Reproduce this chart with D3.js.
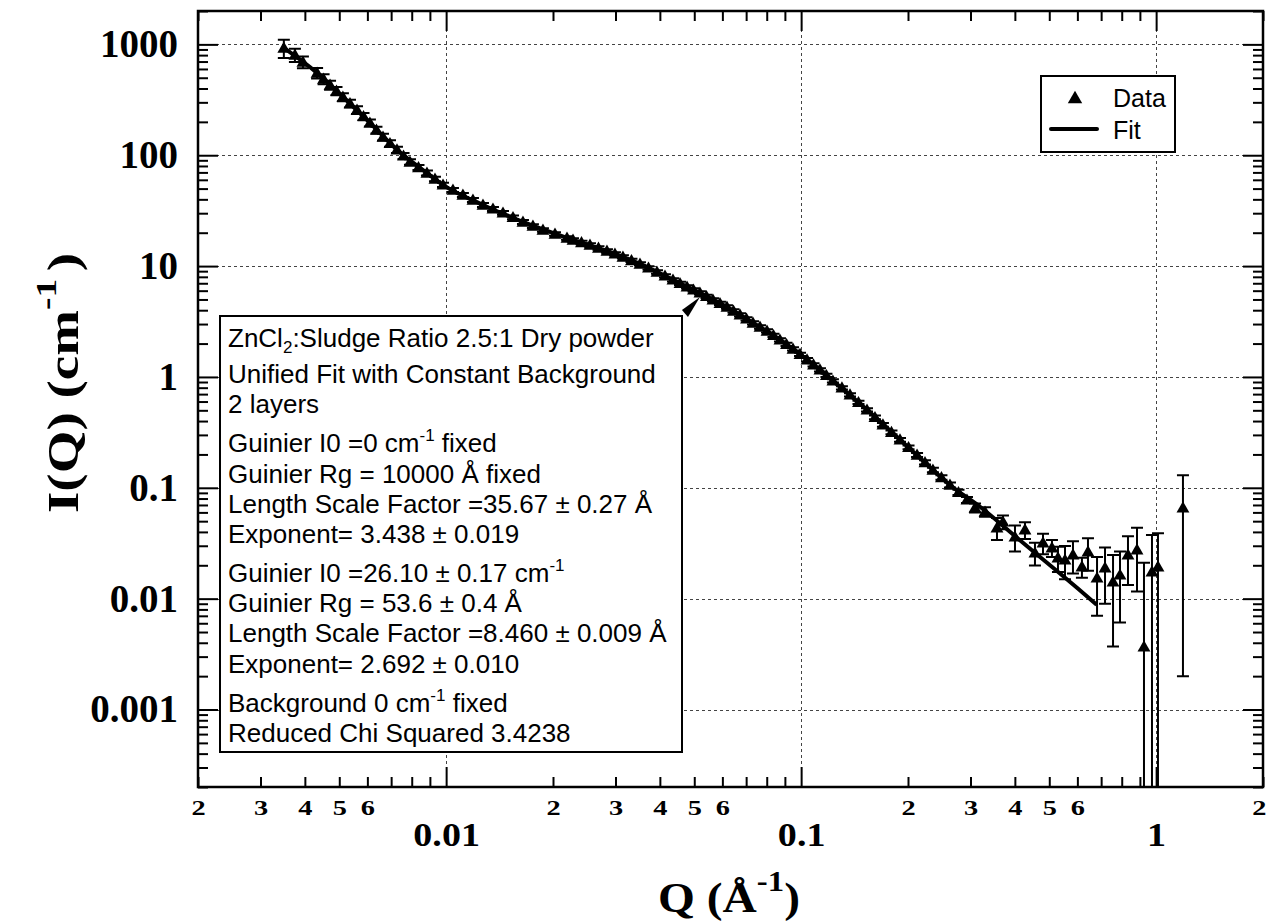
<!DOCTYPE html>
<html>
<head>
<meta charset="utf-8">
<script src="https://cdn.jsdelivr.net/npm/d3@7"></script>
<style>
  body { margin: 0; background: #fff; }
  svg { display: block; }
</style>
</head>
<body>
<div id="chart"></div>
<script>
// measured points (Q in 1/A, I in 1/cm) and their errors, read along the band
const qData = [0.00349, 0.00375, 0.00395, 0.00433, 0.004516, 0.00471, 0.004911, 0.00512, 0.00536, 0.00561,
  0.005851, 0.00610, 0.006364, 0.00664, 0.006948, 0.00727, 0.007585, 0.00791, 0.008358, 0.00883,
  0.009302, 0.00980, 0.010453, 0.01115, 0.0119, 0.0127, 0.01355, 0.01446, 0.01543, 0.01646,
  0.01756, 0.01874, 0.02026, 0.0219, 0.02277, 0.02406, 0.02542, 0.02686, 0.02838, 0.02989,
  0.03148, 0.03327, 0.03516, 0.03715, 0.03926, 0.04135, 0.04355, 0.04558, 0.04771, 0.04975,
  0.05188, 0.05412, 0.05645, 0.05907, 0.06181, 0.06448, 0.06727, 0.07016, 0.07318, 0.07658,
  0.08014, 0.08358, 0.08717, 0.09094, 0.09487, 0.09929, 0.1039, 0.10836, 0.1130, 0.11784,
  0.1229, 0.13029, 0.1373, 0.14506, 0.1533, 0.16144, 0.1700, 0.17967, 0.1899, 0.2007,
  0.2121, 0.2233, 0.2351, 0.24846, 0.2626, 0.27748, 0.2932,
  0.3089, 0.3296, 0.3562, 0.3703, 0.4003, 0.4271, 0.4557, 0.4801, 0.5088, 0.5290,
  0.5537, 0.5831, 0.6180, 0.6427, 0.6816, 0.7178, 0.7561, 0.7911, 0.8331, 0.8833,
  0.9242, 0.9734, 1.012, 1.190];
const iData = [928, 802, 694, 552, 487, 430, 380, 335, 293, 256,
  224, 196, 169, 146, 128, 112, 98.7, 87.0, 77.6, 69.2,
  61.1, 54.0, 48.6, 43.8, 39.5, 35.6, 32.8, 30.2, 27.5, 25.0,
  23.0, 21.2, 19.5, 17.95, 17.2, 16.33, 15.5, 14.57, 13.7, 12.88,
  12.1, 11.25, 10.46, 9.63, 8.86, 8.16, 7.51, 6.98, 6.49, 6.10,
  5.73, 5.33, 4.96, 4.61, 4.28, 3.94, 3.63, 3.34, 3.07, 2.825,
  2.60, 2.37, 2.16, 1.966, 1.79, 1.60, 1.43, 1.288, 1.16, 1.034,
  0.922, 0.798, 0.690, 0.590, 0.505, 0.432, 0.370, 0.3167, 0.271, 0.2317,
  0.198, 0.1694, 0.145, 0.124, 0.106, 0.0909, 0.0779,
  0.0660, 0.0607, 0.0436, 0.0493, 0.0361, 0.0418, 0.0259, 0.0319, 0.0288, 0.0234,
  0.0224, 0.0249, 0.0194, 0.0265, 0.0154, 0.0190, 0.0142, 0.0164, 0.0249, 0.0276,
  0.00368, 0.0175, 0.0194, 0.0660];
const iErr = [175, 110, 85, 60, 50, 40, 33, 28, 24, 20,
  17, 14, 12, 10, 8.5, 7, 6, 5, 4.2, 3.5,
  2.8, 2.4, 2.1, 1.9, 1.7, 1.5, 1.35, 1.2, 1.1, 1.0,
  0.9, 0.8, 0.72, 0.65, 0.62, 0.58, 0.55, 0.51, 0.48, 0.45,
  0.42, 0.39, 0.36, 0.33, 0.31, 0.28, 0.26, 0.24, 0.22, 0.21,
  0.19, 0.18, 0.17, 0.16, 0.15, 0.135, 0.125, 0.115, 0.105, 0.097,
  0.089, 0.081, 0.074, 0.067, 0.061, 0.055, 0.049, 0.044, 0.040, 0.036,
  0.032, 0.028, 0.024, 0.021, 0.018, 0.016, 0.014, 0.012, 0.011, 0.0095,
  0.0085, 0.0075, 0.0068, 0.006, 0.0055, 0.005, 0.0048,
  0.006, 0.006, 0.0097, 0.007, 0.0095, 0.0072, 0.006, 0.0067, 0.005, 0.006,
  0.0074, 0.008, 0.004, 0.0086, 0.0084, 0.010, 0.0105, 0.0103, 0.0116, 0.016,
  0.0174, 0.020, 0.0195, 0.064];

// unified fit curve
const fitQ = [0.00349, 0.00433, 0.00512, 0.00610, 0.00727, 0.00883, 0.0098, 0.0127, 0.01646, 0.0219,
  0.02838, 0.03516, 0.04355, 0.05188, 0.06181, 0.07318, 0.08717, 0.1039, 0.1229, 0.1533,
  0.1899, 0.2351, 0.2626, 0.3190, 0.4055, 0.4927, 0.5984, 0.680];
const fitI = [928, 552, 335, 196, 112, 69.2, 54.0, 35.6, 25.0, 17.95,
  13.7, 10.46, 7.51, 5.73, 4.28, 3.07, 2.16, 1.43, 0.922, 0.505,
  0.271, 0.145, 0.106, 0.0674, 0.0354, 0.0211, 0.01253, 0.0088];

const xMajor = [0.01, 0.1, 1];
const yMajor = [0.001, 0.01, 0.1, 1, 10, 100, 1000];
const xMajorLabels = ["0.01", "0.1", "1"];
const yMajorLabels = ["0.001", "0.01", "0.1", "1", "10", "100", "1000"];
const xMinorLabeled = [2, 3, 4, 5, 6];

const legendLabels = ["Data", "Fit"];

// annotation lines: [text, superscript/subscript pieces]
const noteLines = [
  [["ZnCl"], ["2", "sub"], [":Sludge Ratio 2.5:1 Dry powder"]],
  [["Unified Fit with Constant Background"]],
  [["2 layers"]],
  [["Guinier I0 =0 cm"], ["-1", "sup"], [" fixed"]],
  [["Guinier Rg = 10000 Å fixed"]],
  [["Length Scale Factor =35.67 ± 0.27 Å"]],
  [["Exponent= 3.438 ± 0.019"]],
  [["Guinier I0 =26.10 ± 0.17 cm"], ["-1", "sup"]],
  [["Guinier Rg = 53.6 ± 0.4 Å"]],
  [["Length Scale Factor =8.460 ± 0.009 Å"]],
  [["Exponent= 2.692 ± 0.010"]],
  [["Background 0 cm"], ["-1", "sup"], [" fixed"]],
  [["Reduced Chi Squared 3.4238"]]
];
const noteBaselines = [347, 383, 413, 452, 483, 513, 543, 582, 612, 642, 673, 712, 742];
const tagQ = 0.05188;

const W = 1267, H = 924;
const plot = { left: 198, right: 1263, top: 11, bottom: 787 };
const SERIF = "'Liberation Serif', 'Times New Roman', serif";
const SANS = "'Liberation Sans', Arial, sans-serif";

const svg = d3.select("#chart")
    .append("svg")
    .attr("width", W)
    .attr("height", H);

svg.append("rect").attr("width", W).attr("height", H).attr("fill", "#fff");

const x = d3.scaleLog().domain([0.002, 2]).range([plot.left, plot.right]);
const y = d3.scaleLog().domain([2000, 0.0002]).range([plot.top, plot.bottom]);

function minorTicks(lo, hi) {
    const out = [];
    for (let d = Math.floor(Math.log10(lo)); d <= Math.ceil(Math.log10(hi)); d++) {
        for (let m = 2; m <= 9; m++) {
            const v = m * Math.pow(10, d);
            if (v >= lo * 0.999 && v <= hi * 1.001) out.push(v);
        }
    }
    return out;
}
function lead(v) {
    return Math.round(v / Math.pow(10, Math.floor(Math.log10(v) + 1e-9)));
}
const xMinor = minorTicks(0.002, 2);
const yMinor = minorTicks(0.0002, 2000);

// grid
const grid = svg.append("g").attr("stroke", "#444").attr("stroke-width", 1).attr("stroke-dasharray", "3,3");
grid.selectAll(".gx").data(xMajor).enter().append("line")
    .attr("x1", d => Math.round(x(d)) + 0.5).attr("x2", d => Math.round(x(d)) + 0.5)
    .attr("y1", plot.top).attr("y2", plot.bottom);
grid.selectAll(".gy").data(yMajor).enter().append("line")
    .attr("y1", d => Math.round(y(d)) + 0.5).attr("y2", d => Math.round(y(d)) + 0.5)
    .attr("x1", plot.left).attr("x2", plot.right);

// axes
function styleAxis(g) {
    g.select(".domain").remove();
    g.selectAll(".tick line").attr("stroke", "#000").attr("stroke-width", 2);
    g.selectAll(".tick text").attr("fill", "#000").attr("font-family", SERIF).attr("font-weight", "bold");
}

svg.append("g").attr("transform", `translate(0,${plot.bottom})`)
    .call(d3.axisBottom(x).tickValues(xMinor).tickSize(-10).tickPadding(13)
        .tickFormat(d => xMinorLabeled.includes(lead(d)) ? String(lead(d)) : ""))
    .call(styleAxis)
    .call(g => g.selectAll(".tick text").attr("font-size", 21)
        .attr("transform", "scale(1.35,1)")
        .attr("dx", d => d > 1.5 ? -3 : 0));
svg.append("g").attr("transform", `translate(0,${plot.bottom})`)
    .call(d3.axisBottom(x).tickValues(xMajor).tickSize(-20).tickPadding(35)
        .tickFormat((d, i) => xMajorLabels[i]))
    .call(styleAxis)
    .call(g => g.selectAll(".tick text").attr("font-size", 34).attr("transform", "scale(1.12,1)"));

svg.append("g").attr("transform", `translate(0,${plot.top})`)
    .call(d3.axisTop(x).tickValues(xMinor).tickSize(-10).tickFormat(""))
    .call(styleAxis);
svg.append("g").attr("transform", `translate(0,${plot.top})`)
    .call(d3.axisTop(x).tickValues(xMajor).tickSize(-20).tickFormat(""))
    .call(styleAxis);

svg.append("g").attr("transform", `translate(${plot.left},0)`)
    .call(d3.axisLeft(y).tickValues(yMinor).tickSize(-10).tickFormat(""))
    .call(styleAxis);
svg.append("g").attr("transform", `translate(${plot.left},0)`)
    .call(d3.axisLeft(y).tickValues(yMajor).tickSize(-20).tickPadding(20)
        .tickFormat((d, i) => yMajorLabels[i]))
    .call(styleAxis)
    .call(g => g.selectAll(".tick text").attr("font-size", 39));

svg.append("g").attr("transform", `translate(${plot.right},0)`)
    .call(d3.axisRight(y).tickValues(yMinor).tickSize(-10).tickFormat(""))
    .call(styleAxis);
svg.append("g").attr("transform", `translate(${plot.right},0)`)
    .call(d3.axisRight(y).tickValues(yMajor).tickSize(-20).tickFormat(""))
    .call(styleAxis);

// frame
svg.append("rect")
    .attr("x", plot.left).attr("y", plot.top)
    .attr("width", plot.right - plot.left).attr("height", plot.bottom - plot.top)
    .attr("fill", "none").attr("stroke", "#000").attr("stroke-width", 2.5);

// axis titles
const xt = svg.append("text")
    .attr("transform", "translate(729,912) scale(1.13,1)")
    .attr("text-anchor", "middle")
    .attr("font-family", SERIF).attr("font-weight", "bold").attr("font-size", 42);
xt.append("tspan").text("Q (Å");
xt.append("tspan").attr("font-size", 29).attr("dy", -21).text("-1");
xt.append("tspan").attr("dy", 21).text(")");

const yt = svg.append("text")
    .attr("transform", "translate(78,383) rotate(-90) scale(1.25,1)")
    .attr("text-anchor", "middle")
    .attr("font-family", SERIF).attr("font-weight", "bold").attr("font-size", 44);
yt.append("tspan").text("I(Q) (cm");
yt.append("tspan").attr("font-size", 30).attr("dy", -22).text("-1");
yt.append("tspan").attr("dy", 22).attr("dx", 6).text(")");

// data
const pts = qData.map((q, i) => ({ q: q, v: iData[i], e: iErr[i] }));

svg.append("clipPath").attr("id", "clip")
    .append("rect")
    .attr("x", plot.left).attr("y", plot.top)
    .attr("width", plot.right - plot.left).attr("height", plot.bottom - plot.top);

const dataG = svg.append("g").attr("clip-path", "url(#clip)");

const CAP = 6;
const errG = dataG.append("g").attr("stroke", "#000").attr("stroke-width", 2).attr("fill", "none");
errG.selectAll("path")
    .data(pts)
    .enter()
    .append("path")
    .attr("d", d => {
        const cx = x(d.q);
        const top = y(d.v + d.e);
        const low = d.v - d.e > 0 ? y(d.v - d.e) : plot.bottom + 10;
        let p = `M${cx},${top}V${low}M${cx - CAP},${top}H${cx + CAP}`;
        if (d.v - d.e > 0) p += `M${cx - CAP},${low}H${cx + CAP}`;
        return p;
    });

dataG.append("path")
    .datum(fitQ.map((q, i) => [q, fitI[i]]))
    .attr("fill", "none")
    .attr("stroke", "#000")
    .attr("stroke-width", 4)
    .attr("d", d3.line().x(d => x(d[0])).y(d => y(d[1])).curve(d3.curveMonotoneX));

const tri = d3.symbol().type(d3.symbolTriangle).size(72);
dataG.append("g").selectAll("path")
    .data(pts)
    .enter()
    .append("path")
    .attr("d", tri)
    .attr("transform", d => `translate(${x(d.q)},${y(d.v) + 1})`)
    .attr("fill", "#000");

// legend
const lg = svg.append("g");
lg.append("rect").attr("x", 1041).attr("y", 76).attr("width", 134).attr("height", 76)
    .attr("fill", "#fff").attr("stroke", "#000").attr("stroke-width", 2);
lg.append("path").attr("d", d3.symbol().type(d3.symbolTriangle).size(90))
    .attr("transform", "translate(1075,99)").attr("fill", "#000");
lg.append("line").attr("x1", 1051).attr("x2", 1097).attr("y1", 129).attr("y2", 129)
    .attr("stroke", "#000").attr("stroke-width", 4).attr("stroke-linecap", "round");
lg.selectAll("text").data(legendLabels).enter().append("text")
    .attr("x", 1113).attr("y", (d, i) => i === 0 ? 107 : 139)
    .attr("font-family", SANS).attr("font-size", 25)
    .text(d => d);

// annotation box
const box = svg.append("g");
box.append("rect").attr("x", 220).attr("y", 316).attr("width", 462).attr("height", 436)
    .attr("fill", "#fff").attr("stroke", "#000").attr("stroke-width", 2);
noteLines.forEach((parts, i) => {
    const t = box.append("text")
        .attr("x", 228).attr("y", noteBaselines[i])
        .attr("font-family", SANS).attr("font-size", 26).attr("fill", "#000");
    let shift = 0;
    parts.forEach(p => {
        let dy = 0;
        const s = t.append("tspan").text(p[0]);
        if (p[1] === "sup") { dy = -11 - shift; s.attr("font-size", 17); }
        else if (p[1] === "sub") { dy = 6 - shift; s.attr("font-size", 17); }
        else { dy = -shift; }
        s.attr("dy", dy);
        shift += dy;
    });
});

// tag arrowhead pointing from the box to a data point
const ti = qData.indexOf(tagQ);
const tx = x(qData[ti]), ty = y(iData[ti]) + 4;
svg.append("path")
    .attr("d", `M${tx},${ty}L${tx - 18},${ty + 13}L${tx - 12},${ty + 20}Z`)
    .attr("fill", "#000");
</script>
</body>
</html>
